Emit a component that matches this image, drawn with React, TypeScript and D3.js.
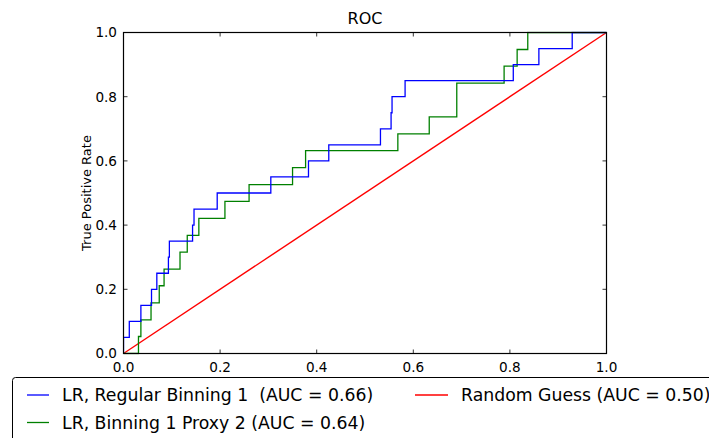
import React from "react";
import * as d3 from "d3";

const blueFpr = [0, 0, 0.012, 0.036, 0.058, 0.069, 0.093, 0.095, 0.143, 0.146, 0.194, 0.305, 0.383, 0.425, 0.532, 0.554, 0.556, 0.583, 0.807, 0.86, 0.929, 1.0];
const blueTpr = [0, 0.05, 0.1, 0.15, 0.2, 0.25, 0.3, 0.35, 0.4, 0.45, 0.5, 0.55, 0.6, 0.65, 0.7, 0.75, 0.8, 0.85, 0.9, 0.95, 1.0, 1.0];

const greenFpr = [0, 0.031, 0.036, 0.057, 0.074, 0.084, 0.117, 0.132, 0.156, 0.21, 0.26, 0.35, 0.377, 0.568, 0.633, 0.69, 0.788, 0.815, 0.837, 1.0];
const greenTpr = [0, 0.053, 0.105, 0.158, 0.211, 0.263, 0.316, 0.368, 0.421, 0.474, 0.526, 0.579, 0.632, 0.684, 0.737, 0.842, 0.895, 0.947, 1.0, 1.0];

const guessFpr = [0, 1];
const guessTpr = [0, 1];

const tickValues = [0, 0.2, 0.4, 0.6, 0.8, 1.0];
const tickLabels = ["0.0", "0.2", "0.4", "0.6", "0.8", "1.0"];

const seriesNames = [
  "LR, Regular Binning 1  (AUC = 0.66)",
  "LR, Binning 1 Proxy 2 (AUC = 0.64)",
  "Random Guess (AUC = 0.50)",
];
const seriesColors = ["#0000ff", "#008000", "#ff0000"];

const W = 709;
const H = 438;
const left = 123.5;
const right = 606.5;
const top = 32.5;
const bottom = 353.5;
const FONT = "DejaVu Sans, sans-serif";

export default function App() {
  const x = d3.scaleLinear().domain([0, 1]).range([left, right]);
  const y = d3.scaleLinear().domain([0, 1]).range([bottom, top]);

  const step = d3
    .line<[number, number]>()
    .x((d) => x(d[0]))
    .y((d) => y(d[1]))
    .curve(d3.curveStepAfter);
  const straight = d3
    .line<[number, number]>()
    .x((d) => x(d[0]))
    .y((d) => y(d[1]));

  const blue = blueFpr.map((f, i) => [f, blueTpr[i]] as [number, number]);
  const green = greenFpr.map((f, i) => [f, greenTpr[i]] as [number, number]);
  const guess = guessFpr.map((f, i) => [f, guessTpr[i]] as [number, number]);

  const tl = 4;
  return (
    <svg
      width={W}
      height={H}
      style={{ position: "absolute", left: 0, top: 0, background: "#fff" }}
      fontFamily={FONT}
    >
      <rect x={0} y={0} width={W} height={H} fill="#fff" />
      <defs>
        <clipPath id="plotclip">
          <rect x={left} y={top - 1} width={right - left + 1} height={bottom - top + 2} />
        </clipPath>
      </defs>
      <g clipPath="url(#plotclip)">
        <path d={straight(guess) || ""} fill="none" stroke={seriesColors[2]} strokeWidth={1.4} />
        <path d={step(green) || ""} fill="none" stroke={seriesColors[1]} strokeWidth={1.3} />
        <path d={step(blue) || ""} fill="none" stroke={seriesColors[0]} strokeWidth={1.3} />
      </g>
      <rect x={left} y={top} width={right - left} height={bottom - top} fill="none" stroke="#000" strokeWidth={1.2} />
      {tickValues.map((v, i) => (
        <g key={"t" + i}>
          <line x1={x(v)} x2={x(v)} y1={bottom} y2={bottom - tl} stroke="#000" strokeWidth={0.8} />
          <line x1={x(v)} x2={x(v)} y1={top} y2={top + tl} stroke="#000" strokeWidth={0.8} />
          <line x1={left} x2={left + tl} y1={y(v)} y2={y(v)} stroke="#000" strokeWidth={0.8} />
          <line x1={right} x2={right - tl} y1={y(v)} y2={y(v)} stroke="#000" strokeWidth={0.8} />
          <text x={x(v)} y={371.5} textAnchor="middle" fontSize={13.6} fill="#000">
            {tickLabels[i]}
          </text>
          <text x={117} y={y(v) + 4.9} textAnchor="end" fontSize={13.6} fill="#000">
            {tickLabels[i]}
          </text>
        </g>
      ))}
      <text x={(left + right) / 2} y={24} textAnchor="middle" fontSize={16} fill="#000">
        ROC
      </text>
      <text
        transform={`translate(90.5,${(top + bottom) / 2}) rotate(-90)`}
        textAnchor="middle"
        fontSize={13}
        fill="#000"
      >
        True Positive Rate
      </text>
      <rect x={12.5} y={377.5} width={720} height={80} rx={3} fill="#fff" stroke="#000" strokeWidth={1} />
      {[
        { i: 0, hx: 27, tx: 62, row: 0 },
        { i: 1, hx: 27, tx: 62, row: 1 },
        { i: 2, hx: 415, tx: 461, row: 0 },
      ].map((e) => {
        const cy = 395 + e.row * 27.5;
        return (
          <g key={"l" + e.i}>
            <line x1={e.hx} x2={e.tx - 13} y1={cy} y2={cy} stroke={seriesColors[e.i]} strokeWidth={1.3} />
            <text x={e.tx} y={cy + 6} fontSize={17.3} fill="#000" style={{ whiteSpace: "pre" }}>
              {seriesNames[e.i]}
            </text>
          </g>
        );
      })}
    </svg>
  );
}
